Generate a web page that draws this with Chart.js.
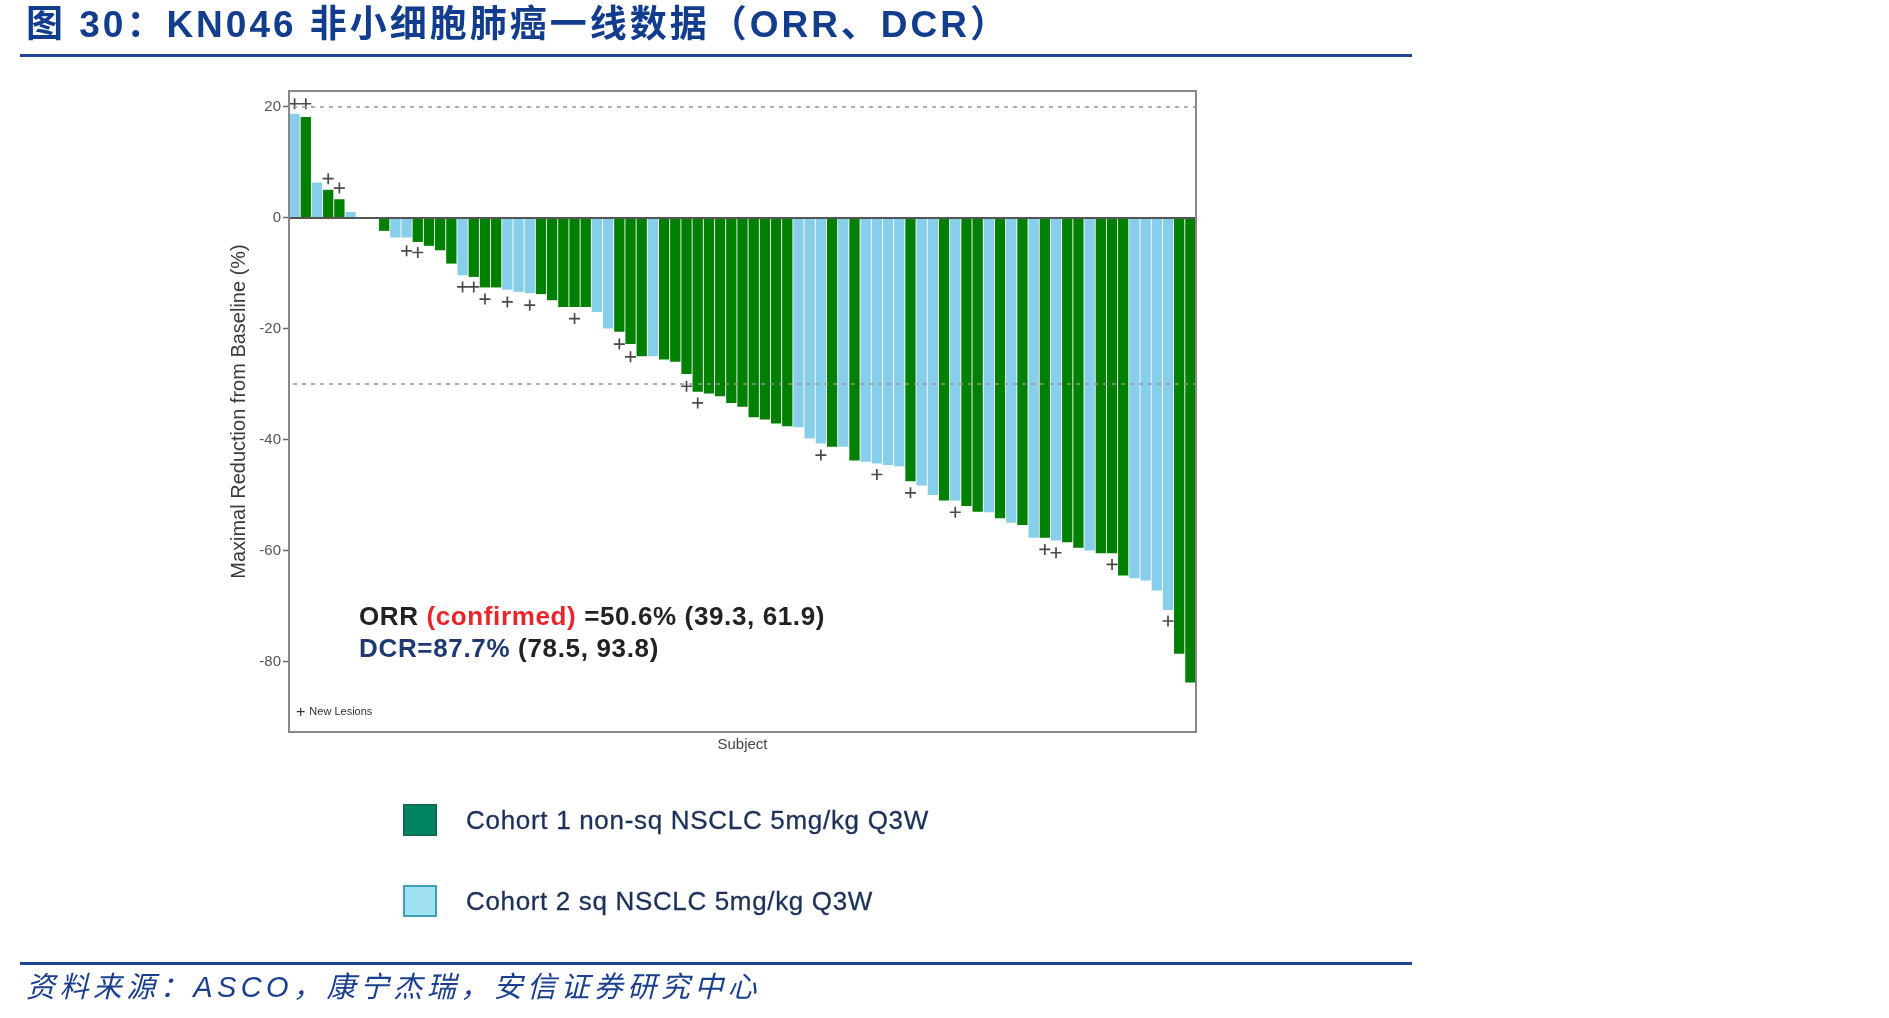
<!DOCTYPE html>
<html>
<head>
<meta charset="utf-8">
<script src="https://cdn.jsdelivr.net/npm/chart.js@4.4.1/dist/chart.umd.min.js"></script>
<style>
  html, body { margin:0; padding:0; background:#fff; }
  body { width:1889px; height:1018px; position:relative; overflow:hidden; font-family:"Liberation Sans", Arial, sans-serif; }
  #c { position:absolute; left:0; top:0; }
  .abs { position:absolute; white-space:nowrap; line-height:1; }
  #title { left:26px; top:6px; font-family:"Liberation Sans", "Noto Sans CJK SC", sans-serif; font-weight:bold; font-size:37px; color:#123d8c; }
  .rule { position:absolute; left:20px; width:1392px; height:3px; background:#1f4496; }
  #footer { left:26px; top:973px; font-family:"Liberation Sans", "Noto Sans CJK SC", sans-serif; font-style:italic; font-size:29px; color:#1a3f8f; }
  .ann { font-weight:bold; font-size:26px; color:#222; }
  .red { color:#e8252a; }
  .navy { color:#1f3a73; }
  .leg-box { position:absolute; width:34px; height:32px; box-sizing:border-box; border:2px solid; }
  .leg-txt { font-size:26px; color:#1c3159; -webkit-text-stroke:0.3px #1c3159; }
  #nl { left:296px; top:704px; font-size:11px; color:#333; }
  #nl b { font-size:16px; font-weight:normal; vertical-align:-2px; margin-right:4px; }
</style>
</head>
<body>
<canvas id="c" width="1889" height="1018"></canvas>

<div id="title" class="abs">图 30：KN046 非小细胞肺癌一线数据（ORR、DCR）</div>
<div class="rule" style="top:54px"></div>

<div id="orr" class="abs ann" style="left:359px; top:603px">ORR <span class="red">(confirmed)</span> =50.6% (39.3, 61.9)</div>
<div id="dcr" class="abs ann" style="left:359px; top:635px"><span class="navy">DCR=87.7%</span> (78.5, 93.8)</div>
<div id="nl" class="abs"><b>+</b>New Lesions</div>

<div id="legend"></div>

<div class="rule" style="top:962px"></div>
<div id="footer" class="abs">资料来源：ASCO，康宁杰瑞，安信证券研究中心</div>

<script>
// ---------------- DATA ----------------
const subjects = ["1","2","3","4","5","6","7","8","9","10","11","12","13","14","15","16","17","18","19","20",
  "21","22","23","24","25","26","27","28","29","30","31","32","33","34","35","36","37","38","39","40",
  "41","42","43","44","45","46","47","48","49","50","51","52","53","54","55","56","57","58","59","60",
  "61","62","63","64","65","66","67","68","69","70","71","72","73","74","75","76","77","78","79","80","81"];

// maximal change from baseline (%) per subject
const maxChange = [18.7, 18.1, 6.3, 5.0, 3.3, 1.0, 0, 0, -2.4, -3.6,
  -3.6, -4.4, -5.1, -5.9, -8.3, -10.4, -10.7, -12.6, -12.6, -13.0,
  -13.4, -13.6, -13.8, -14.9, -16.1, -16.1, -16.1, -17.0, -20.0, -20.6,
  -22.8, -25.0, -25.0, -25.6, -26.0, -28.2, -31.4, -31.7, -32.2, -33.4,
  -34.1, -36.0, -36.4, -37.1, -37.6, -37.8, -39.8, -40.7, -41.3, -41.3,
  -43.8, -44.0, -44.3, -44.6, -44.8, -47.5, -48.3, -50.0, -51.0, -51.0,
  -52.0, -53.0, -53.1, -54.2, -55.0, -55.4, -57.7, -57.7, -58.2, -58.5,
  -59.5, -60.0, -60.5, -60.5, -64.5, -65.0, -65.4, -67.2, -70.7, -78.6, -83.8];

// cohort of each subject (1 = non-sq, 2 = sq)
const cohort = [2, 1, 2, 1, 1, 2, 2, 1, 1, 2,
  2, 1, 1, 1, 1, 2, 1, 1, 1, 2,
  2, 2, 1, 1, 1, 1, 1, 2, 2, 1,
  1, 1, 2, 1, 1, 1, 1, 1, 1, 1,
  1, 1, 1, 1, 1, 2, 2, 2, 1, 2,
  1, 2, 2, 2, 2, 1, 2, 2, 1, 2,
  1, 1, 2, 1, 2, 1, 2, 1, 2, 1,
  1, 2, 1, 1, 1, 2, 2, 2, 2, 1, 1];

// "+" new lesion markers (position on the value axis), null = none
const newLesions = [20.5, 20.5, null, 7.0, 5.3, null, null, null, null, null,
  -6.0, -6.3, null, null, null, -12.5, -12.5, -14.7, null, -15.2,
  null, -15.8, null, null, null, -18.2, null, null, null, -22.8,
  -25.1, null, null, null, null, -30.4, -33.4, null, null, null,
  null, null, null, null, null, null, null, -42.8, null, null,
  null, null, -46.3, null, null, -49.6, null, null, null, -53.1,
  null, null, null, null, null, null, null, -59.8, -60.4, null,
  null, null, null, -62.5, null, null, null, null, -72.7, null, null];

const cohortNames = ["Cohort 1 non-sq NSCLC 5mg/kg Q3W", "Cohort 2 sq NSCLC 5mg/kg Q3W"];
const yTickValues = [20, 0, -20, -40, -60, -80];
const thresholdLines = [20, -30];

// ---------------- STYLE ----------------
const barColors = ["#008000", "#87ceeb"];
const legendFill = ["#00845f", "#9fe0f1"];
const legendBorder = ["#0e6e52", "#3d9fb8"];
const FONT = "Liberation Sans";

const datasets = cohortNames.map((name, k) => ({
  type: "bar",
  label: name,
  data: maxChange.map((v, i) => (cohort[i] === k + 1 ? v : null)),
  backgroundColor: barColors[k],
  borderWidth: 0,
  grouped: false,
  barPercentage: 0.92,
  categoryPercentage: 1.0,
  order: 2
}));
datasets.push({
  type: "line",
  label: "New Lesions",
  data: newLesions,
  showLine: false,
  pointStyle: "cross",
  pointRadius: 5.5,
  pointBorderWidth: 1.7,
  pointBorderColor: "#4a4a4a",
  borderColor: "#4a4a4a",
  order: 0
});

const framePlugin = {
  id: "frame",
  afterDatasetsDraw(chart) {
    const { ctx, chartArea: a, scales: { y } } = chart;
    ctx.save();
    ctx.strokeStyle = "rgba(150,150,150,0.75)";
    ctx.lineWidth = 2;
    ctx.setLineDash([4, 5]);
    thresholdLines.forEach(v => {
      const py = Math.round(y.getPixelForValue(v));
      ctx.beginPath(); ctx.moveTo(a.left + 4, py); ctx.lineTo(a.right, py); ctx.stroke();
    });
    ctx.setLineDash([]);
    const y0 = Math.round(y.getPixelForValue(0));
    ctx.strokeStyle = "#555"; ctx.lineWidth = 2;
    ctx.beginPath(); ctx.moveTo(a.left, y0); ctx.lineTo(a.right, y0); ctx.stroke();
    ctx.strokeStyle = "#888"; ctx.lineWidth = 2;
    ctx.strokeRect(a.left, a.top, a.right - a.left, a.bottom - a.top);
    ctx.restore();
  }
};

new Chart(document.getElementById("c"), {
  data: { labels: subjects, datasets },
  options: {
    responsive: false,
    animation: false,
    layout: { padding: { left: 227, top: 91, right: 693, bottom: 264 } },
    plugins: { legend: { display: false }, tooltip: { enabled: false } },
    scales: {
      x: {
        type: "category",
        offset: true,
        ticks: { display: false },
        grid: { display: false },
        border: { display: false },
        title: { display: true, text: "Subject", color: "#444", font: { family: FONT, size: 15 }, padding: 0 },
        afterFit(s) { s.height = 22; }
      },
      y: {
        min: -92.7,
        max: 22.8,
        afterBuildTicks(s) { s.ticks = yTickValues.map(v => ({ value: v })); },
        ticks: { color: "#555", font: { family: FONT, size: 15 }, padding: 2 },
        grid: { drawOnChartArea: false, drawTicks: true, tickLength: 6, tickColor: "#666", tickWidth: 1.5 },
        border: { display: false },
        title: { display: true, text: "Maximal Reduction from Baseline (%)", color: "#3a3a3a", font: { family: FONT, size: 20 }, padding: 0 },
        afterFit(s) { s.width = 62; }
      }
    }
  },
  plugins: [framePlugin]
});

// legend (built from the cohort names)
const legendEl = document.getElementById("legend");
const legendY = [820, 901];
cohortNames.forEach((name, k) => {
  const box = document.createElement("div");
  box.className = "leg-box";
  box.style.left = "403px";
  box.style.top = (legendY[k] - 16) + "px";
  box.style.background = legendFill[k];
  box.style.borderColor = legendBorder[k];
  legendEl.appendChild(box);
  const t = document.createElement("div");
  t.className = "abs leg-txt";
  t.id = "leg" + k;
  t.style.left = "466px";
  t.style.top = (legendY[k] - 13) + "px";
  t.textContent = name;
  legendEl.appendChild(t);
});

// fit text widths to the reference layout via letter-spacing
function fitWidth(id, target) {
  const el = document.getElementById(id);
  const n = el.textContent.length;
  const w = el.getBoundingClientRect().width;
  el.style.letterSpacing = ((target - w) / n) + "px";
}
fitWidth("title", 984);
fitWidth("footer", 735);
fitWidth("orr", 466);
fitWidth("dcr", 300);
fitWidth("leg0", 463);
fitWidth("leg1", 407);
</script>
</body>
</html>
